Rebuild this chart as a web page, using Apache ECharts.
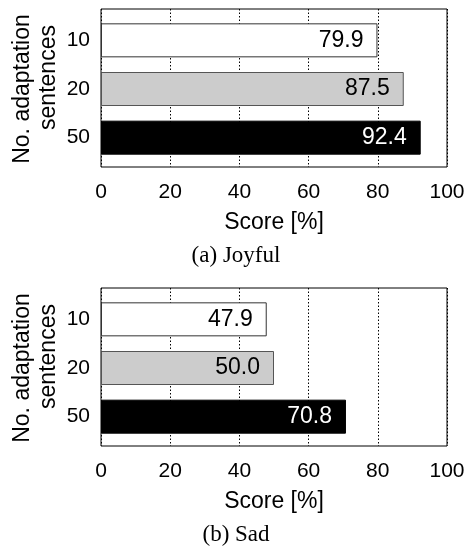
<!DOCTYPE html>
<html>
<head>
<meta charset="utf-8">
<script src="https://cdn.jsdelivr.net/npm/echarts@6/dist/echarts.min.js"></script>
<style>
html,body{margin:0;padding:0;background:#fff;}
#chart{width:469px;height:547px;}
</style>
</head>
<body>
<div id="chart"></div>
<script>
const categories = ['10', '20', '50'];
const joyfulScores = [79.9, 87.5, 92.4];
const sadScores = [47.9, 50.0, 70.8];
const xTicks = [0, 20, 40, 60, 80, 100];
const captions = ['(a) Joyful', '(b) Sad'];

const fills = ['#ffffff', '#cccccc', '#000000'];
const borders = ['#333333', '#555555', '#000000'];
const labelColors = ['#000000', '#000000', '#ffffff'];

const SANS = '"Liberation Sans", Arial, sans-serif';
const PANEL_DY = 279;

function makeData(vals) {
  return vals.map((v, i) => ({
    value: v,
    itemStyle: { color: fills[i], borderColor: borders[i], borderWidth: 1 },
    label: { color: labelColors[i] }
  }));
}

// outer frame grid: visible x axis with dotted grid lines
function frameX(gi) {
  return {
    type: 'value', gridIndex: gi, min: 0, max: 100, interval: 20,
    name: 'Score [%]', nameLocation: 'middle', nameGap: 44, nameMoveOverlap: false,
    nameTextStyle: { fontFamily: SANS, fontSize: 23, color: '#000' },
    axisLine: { show: false },
    axisTick: { show: false },
    axisLabel: { fontFamily: SANS, fontSize: 21, color: '#000', margin: 15,
      formatter: v => xTicks.includes(v) ? String(v) : '' },
    splitLine: { show: true, lineStyle: { color: '#000', type: [1.5, 2], width: 1 } }
  };
}
function frameY(gi) {
  return { type: 'value', gridIndex: gi, min: 0, max: 1, show: false, splitLine: { show: false } };
}
// inner grid: bars
function innerX(gi) {
  return { type: 'value', gridIndex: gi, min: 0, max: 100, show: false, splitLine: { show: false } };
}
function innerY(gi) {
  return {
    type: 'category', gridIndex: gi, data: categories, inverse: true,
    name: '{a|No. adaptation}\n{b|sentences}', nameLocation: 'middle', nameGap: 39, nameRotate: 90,
    nameMoveOverlap: false,
    nameTextStyle: { fontFamily: SANS, fontSize: 23, color: '#000', lineHeight: 26,
      rich: {
        a: { fontFamily: SANS, fontSize: 23, color: '#000', lineHeight: 26 },
        b: { fontFamily: SANS, fontSize: 23, color: '#000', lineHeight: 26, padding: [0, 0, 0, 23] }
      } },
    axisLine: { show: false },
    axisTick: { show: false },
    axisLabel: { fontFamily: SANS, fontSize: 21, color: '#000', margin: 11 }
  };
}
function series(gi, vals) {
  return {
    type: 'bar', xAxisIndex: gi, yAxisIndex: gi, barWidth: 34,
    data: makeData(vals),
    label: { show: true, position: 'insideRight', distance: 14,
      fontFamily: SANS, fontSize: 23, formatter: p => p.value.toFixed(1) },
    silent: true, animation: false
  };
}

const chart = echarts.init(document.getElementById('chart'), null, { renderer: 'canvas' });
chart.setOption({
  animation: false,
  backgroundColor: '#fff',
  grid: [
    { left: 101, top: 9, width: 346, height: 158, outerBoundsMode: 'none', containLabel: false, show: true, borderColor: '#000', borderWidth: 1, backgroundColor: 'transparent' },
    { left: 101, top: 16, width: 346, height: 146, outerBoundsMode: 'none', containLabel: false },
    { left: 101, top: 9 + PANEL_DY, width: 346, height: 158, outerBoundsMode: 'none', containLabel: false, show: true, borderColor: '#000', borderWidth: 1, backgroundColor: 'transparent' },
    { left: 101, top: 16 + PANEL_DY, width: 346, height: 146, outerBoundsMode: 'none', containLabel: false }
  ],
  xAxis: [frameX(0), innerX(1), frameX(2), innerX(3)],
  yAxis: [frameY(0), innerY(1), frameY(2), innerY(3)],
  series: [series(1, joyfulScores), series(3, sadScores)],
  graphic: [
    { type: 'text', x: 236, y: 256, style: { text: captions[0], font: '23px "Liberation Serif", serif', fill: '#000', align: 'center', verticalAlign: 'middle' } },
    { type: 'text', x: 236, y: 256 + PANEL_DY, style: { text: captions[1], font: '23px "Liberation Serif", serif', fill: '#000', align: 'center', verticalAlign: 'middle' } }
  ]
});
</script>
</body>
</html>
